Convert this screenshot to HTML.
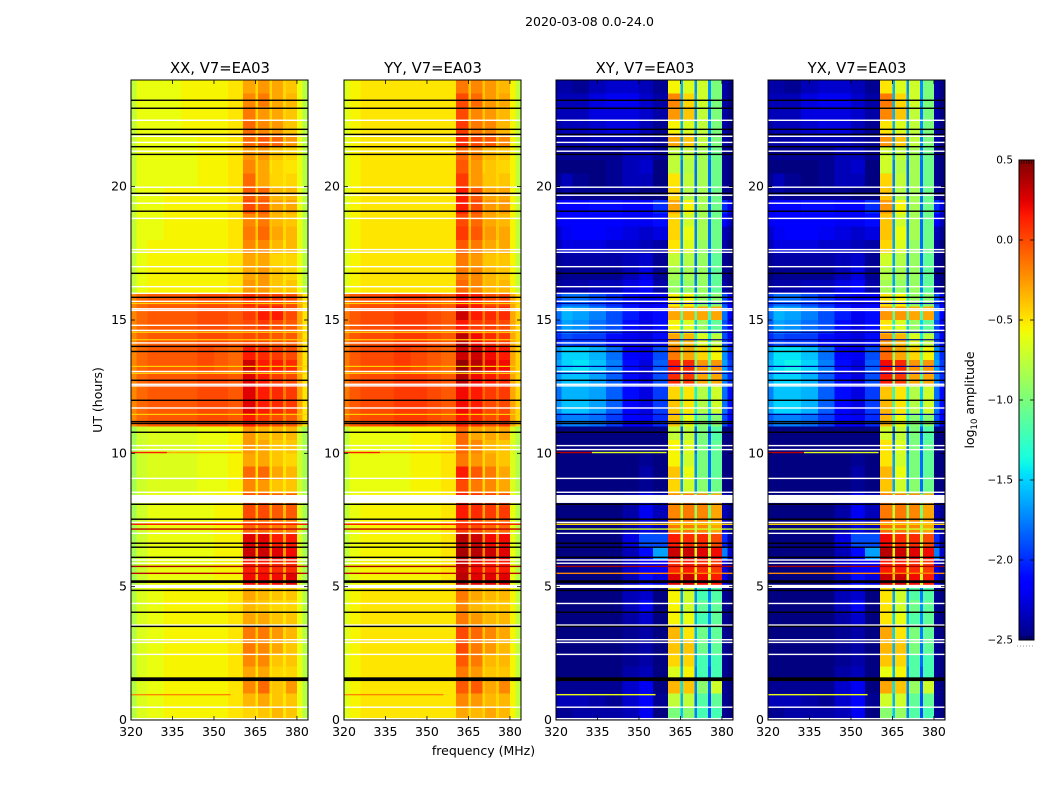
<!DOCTYPE html>
<html lang="en">
<head>
<meta charset="utf-8">
<title>2020-03-08 0.0-24.0</title>
<style>
html,body{margin:0;padding:0;background:#fff;width:1050px;height:800px;overflow:hidden}
svg{display:block}
text{font-family:"DejaVu Sans","Liberation Sans",sans-serif;fill:#000}
</style>
</head>
<body>
<svg id="fig" xmlns="http://www.w3.org/2000/svg" width="1050" height="800" viewBox="0 0 1050 800">
<text x="589.5" y="26" font-size="12.5" text-anchor="middle">2020-03-08 0.0-24.0</text>
<text x="483.5" y="755" font-size="12.5" text-anchor="middle">frequency (MHz)</text>
<text transform="translate(102,400) rotate(-90)" font-size="12.5" text-anchor="middle">UT (hours)</text>
<text transform="translate(974,400) rotate(-90)" font-size="12.5" text-anchor="middle">log<tspan font-size="8.5" dy="3">10</tspan><tspan dy="-3"> amplitude</tspan></text>
<defs><linearGradient id="jet-gradient" x1="0" y1="1" x2="0" y2="0"></linearGradient></defs>
<g id="panels"></g>
<g id="cbar"></g>
</svg>
<script>
// Axis categories and tick labels
const freqEdges=[320,322,326,332,338,344,350,355,360.5,365,366,370,371,375,376,380,382,384];
const freqTicks=[320,335,350,365,380];
const hourTicks=[0,5,10,15,20];
const colorTicks=[0.5,0,-0.5,-1,-1.5,-2,-2.5];
const rowHours=0.5;
const valueUnit=0.05; // matrices hold log10 amplitude in units of 0.05
const panelTitles=["XX, V7=EA03","YY, V7=EA03","XY, V7=EA03","YX, V7=EA03"];

// Flagged integrations
const blackHours=[23.24,22.94,22.15,21.96,21.5,21.21,19.75,19.08,16.75,15.85,14.01,13.82,12.74,11.99,11.19,11.12,10.79,8.09,7.53,6.63,6.48,6.1,4.86,4.04,3.51];
const whiteHours=[22.49,21.89,21.66,21.33,19.98,19.68,19.38,18.81,17.64,17.54,17,16.25,16,15.7,15.42,15.36,14.8,14.61,14.14,13.07,12.59,12.53,11.7,10.29,10.14,9.06,8.54,7.41,7,6,5.88,4.37,3.56,3.01,2.91,2.46,0.48,0.05];
const quietHours=[15.62,14.54,14.26,13.26,13,11.46];
const bandStart=[1.46,5.14,4.95,8.14];
const bandEnd=[1.6,5.24,5.07,8.44];
const bandFill=["black","black","white","white"];

// Narrow interference lines: hour, freq from, freq to, value per panel
const spurHour=[10.03,10.03,0.95,7.34,7.16,5.76,5.5];
const spurFrom=[320,333,320,320,320,320,320];
const spurTo=[333,360,356,384,384,384,384];
const spurXX=[3,-6,-4,3,7,8,7];
const spurYY=[3,-6,-4,3,7,8,7];
const spurXY=[7,-13,-12,-9,-14,8,-4];
const spurYX=[7,-13,-12,-9,-14,8,-4];

const xxValues=[
[-16,-13,-12,-11,-11,-11,-11,-10,-9,-10,-8,-10,-7,-10,-8,-12,-16],
[-16,-13,-12,-11,-11,-11,-11,-10,-7,-10,-6,-10,-8,-10,-8,-12,-16],
[-16,-13,-12,-11,-11,-11,-11,-10,-4,-9,-2,-9,-8,-9,-5,-12,-16],
[-16,-13,-12,-11,-11,-11,-11,-10,-6,-10,-6,-10,-9,-10,-9,-12,-16],
[-16,-13,-12,-11,-11,-11,-11,-10,-4,-9,-4,-10,-8,-10,-8,-12,-16],
[-16,-13,-12,-11,-11,-11,-11,-10,-3,-9,-4,-10,-6,-10,-8,-12,-16],
[-16,-13,-12,-11,-11,-11,-11,-10,-3,-8,-3,-9,-5,-9,-7,-12,-16],
[-16,-13,-12,-11,-11,-11,-11,-10,-6,-9,-6,-9,-8,-10,-8,-12,-16],
[-16,-13,-12,-11,-11,-11,-11,-10,-7,-9,-8,-10,-9,-10,-9,-12,-16],
[-16,-13,-12,-11,-11,-11,-11,-10,-6,-9,-7,-10,-8,-10,-8,-12,-16],
[-17,-14,-12,-12,-12,-12,-11,-11,4,-7,4,-6,4,-6,5,-13,-17],
[-17,-14,-12,-12,-12,-12,-11,-11,3,-7,3,-6,2,-6,2,-13,-17],
[-17,-14,-12,-12,-12,-12,-11,-11,6,-6,6,-5,5,-5,4,-13,-17],
[-17,-14,-12,-12,-12,-12,-11,-11,5,-6,5,-6,3,-6,3,-13,-17],
[-17,-14,-12,-12,-12,-12,-11,-11,-2,-7,-2,-7,-3,-8,-3,-13,-17],
[-17,-14,-12,-12,-12,-12,-11,-11,0,-7,0,-7,-1,-7,-1,-13,-17],
[-17,-14,-12,-12,-12,-12,-11,-11,0,-8,0,-8,-1,-8,-1,-13,-17],
[-17,-14,-13,-13,-13,-12,-12,-11,-4,-10,-5,-10,-8,-10,-8,-14,-17],
[-17,-14,-13,-13,-13,-12,-12,-11,-2,-10,-2,-10,-6,-10,-7,-14,-17],
[-17,-14,-13,-13,-13,-12,-12,-11,-6,-10,-6,-10,-8,-10,-9,-14,-17],
[-17,-14,-13,-13,-13,-12,-12,-11,-5,-10,-6,-10,-8,-10,-8,-14,-17],
[-17,-14,-13,-13,-13,-12,-12,-11,-5,-10,-7,-10,-7,-10,-7,-14,-17],
[-4,-2,-1,-1,-1,0,0,-1,3,-3,1,-3,0,-4,-1,-6,-10],
[-4,-2,-1,-1,-1,0,0,-1,5,-2,3,-3,2,-3,1,-6,-10],
[-4,-2,-1,-1,-1,0,0,-1,5,-2,3,-3,2,-3,1,-6,-10],
[-4,-2,-1,-1,-1,0,0,-1,5,-2,3,-3,1,-3,0,-6,-10],
[-4,-2,-1,-1,-1,0,-1,-2,6,-2,3,-3,3,-3,2,-6,-10],
[-4,-2,-1,-1,-1,0,-1,-2,3,-3,2,-3,1,-3,0,-6,-10],
[-4,-2,-1,-1,-1,0,0,-1,0,-3,0,-4,-1,-4,-1,-6,-10],
[-4,-2,-1,-1,-1,0,0,-1,0,-3,1,-4,0,-4,-1,-6,-10],
[-4,-2,-1,-1,-1,0,0,-1,1,-3,3,-3,3,-3,0,-6,-10],
[-4,-2,-1,-1,-1,0,0,-1,2,-3,1,-3,1,-4,0,-6,-10],
[-15,-12,-11,-11,-11,-11,-11,-10,-5,-9,-5,-9,-8,-10,-8,-12,-16],
[-15,-12,-11,-11,-11,-11,-11,-10,-6,-9,-5,-9,-8,-10,-9,-12,-16],
[-15,-12,-11,-11,-11,-11,-11,-10,-6,-9,-6,-9,-9,-10,-9,-12,-16],
[-15,-12,-11,-11,-11,-11,-11,-10,-4,-9,-4,-9,-7,-10,-7,-12,-16],
[-15,-12,-12,-11,-11,-11,-11,-10,-3,-8,-2,-8,-6,-9,-7,-12,-16],
[-15,-12,-12,-11,-11,-11,-11,-10,-4,-9,-3,-8,-7,-9,-8,-12,-16],
[-15,-12,-12,-11,-11,-11,-11,-10,0,-8,-1,-8,-6,-9,-6,-12,-16],
[-15,-12,-12,-11,-11,-11,-11,-10,-1,-8,-2,-8,-7,-9,-7,-12,-16],
[-15,-12,-12,-12,-12,-11,-11,-10,-2,-9,-6,-9,-9,-10,-9,-12,-16],
[-15,-12,-12,-12,-12,-11,-11,-10,-4,-9,-6,-10,-9,-10,-10,-12,-16],
[-15,-12,-12,-12,-12,-11,-11,-10,-5,-9,-5,-9,-8,-10,-9,-12,-16],
[-15,-12,-12,-12,-12,-11,-11,-10,-2,-8,-1,-7,-2,-8,-5,-12,-16],
[-15,-12,-12,-12,-11,-11,-11,-10,-2,-8,-4,-8,-5,-8,-8,-12,-16],
[-15,-12,-12,-12,-11,-11,-11,-10,-3,-9,-5,-9,-6,-9,-8,-12,-16],
[-15,-12,-12,-12,-11,-11,-11,-10,-4,-9,-3,-9,-6,-9,-7,-12,-16],
[-15,-12,-12,-12,-11,-11,-11,-10,-6,-9,-5,-9,-6,-9,-8,-12,-16]
];

const yyValues=[
[-13,-11,-10,-10,-10,-10,-10,-10,-6,-9,-7,-9,-6,-9,-7,-11,-15],
[-13,-11,-10,-10,-10,-10,-10,-10,-4,-9,-5,-9,-7,-9,-7,-11,-15],
[-13,-11,-10,-10,-10,-10,-10,-10,-1,-8,-1,-8,-6,-8,-4,-11,-15],
[-13,-11,-10,-10,-10,-10,-10,-10,-3,-8,-5,-9,-8,-9,-8,-11,-15],
[-13,-11,-10,-10,-10,-10,-10,-10,-1,-8,-3,-9,-7,-9,-7,-11,-15],
[-13,-11,-10,-10,-10,-10,-10,-10,0,-8,-3,-9,-5,-9,-7,-11,-15],
[-13,-11,-10,-10,-10,-10,-10,-10,0,-7,-2,-8,-4,-8,-6,-11,-15],
[-13,-11,-10,-10,-10,-10,-10,-10,-3,-8,-5,-8,-7,-9,-7,-11,-15],
[-13,-11,-10,-10,-10,-10,-10,-10,-4,-8,-7,-9,-8,-9,-8,-11,-15],
[-13,-11,-10,-10,-10,-10,-10,-10,-3,-8,-6,-9,-7,-9,-7,-11,-15],
[-15,-12,-11,-11,-11,-11,-11,-10,7,-6,5,-5,5,-5,5,-12,-16],
[-15,-12,-11,-11,-11,-11,-11,-10,6,-6,4,-5,3,-5,3,-12,-16],
[-15,-12,-11,-11,-11,-11,-11,-10,8,-5,7,-4,6,-4,5,-12,-16],
[-15,-12,-11,-11,-11,-11,-11,-10,7,-5,6,-5,4,-5,4,-12,-16],
[-15,-12,-11,-11,-11,-11,-11,-10,1,-6,0,-6,-2,-7,-2,-12,-16],
[-15,-12,-11,-11,-11,-11,-11,-10,3,-6,2,-6,1,-6,1,-12,-16],
[-15,-12,-11,-11,-11,-11,-11,-10,3,-7,2,-7,1,-7,0,-12,-16],
[-15,-12,-12,-12,-12,-11,-11,-10,0,-9,-3,-9,-4,-9,-6,-13,-16],
[-15,-12,-12,-12,-12,-11,-11,-10,3,-9,-1,-9,-3,-9,-6,-13,-16],
[-15,-12,-12,-12,-12,-11,-11,-10,-3,-9,-5,-9,-6,-9,-8,-13,-16],
[-15,-12,-12,-12,-12,-11,-11,-10,-2,-9,-4,-9,-7,-9,-8,-13,-16],
[-15,-12,-12,-12,-12,-11,-11,-10,-2,-9,-6,-9,-6,-9,-6,-13,-16],
[-3,-1,0,0,1,1,0,-1,3,-2,2,-2,0,-3,1,-6,-9],
[-3,-1,0,0,1,1,0,-1,4,-2,3,-2,0,-3,0,-6,-9],
[-3,-1,0,0,1,1,0,-1,4,-2,3,-2,1,-2,1,-6,-9],
[-3,-1,0,0,1,1,0,-1,7,-1,4,-2,3,-2,2,-6,-9],
[-3,-1,0,0,1,0,-1,-2,9,-1,7,-2,5,-2,4,-6,-9],
[-3,-1,0,0,1,0,-1,-2,6,-2,6,-2,4,-2,3,-6,-9],
[-3,-1,0,0,1,1,0,-1,7,-2,4,-3,2,-3,1,-6,-9],
[-3,-1,0,0,1,1,0,-1,3,-2,1,-3,1,-3,0,-6,-9],
[-3,-1,0,0,1,1,0,-1,6,-2,3,-3,2,-3,2,-6,-9],
[-3,-1,0,0,1,1,0,-1,4,-2,3,-3,0,-3,0,-6,-9],
[-13,-11,-10,-10,-10,-10,-10,-10,-2,-8,-4,-8,-7,-9,-7,-11,-15],
[-13,-11,-10,-10,-10,-10,-10,-10,-3,-8,-4,-8,-7,-9,-8,-11,-15],
[-13,-11,-10,-10,-10,-10,-10,-10,-3,-8,-5,-8,-8,-9,-8,-11,-15],
[-13,-11,-10,-10,-10,-10,-10,-10,-1,-8,-3,-8,-6,-9,-6,-11,-15],
[-13,-11,-10,-10,-10,-10,-10,-10,1,-7,-1,-7,-5,-8,-6,-11,-15],
[-13,-11,-10,-10,-10,-10,-10,-10,0,-8,-2,-7,-6,-8,-7,-11,-15],
[-13,-11,-10,-10,-10,-10,-10,-10,3,-7,0,-7,-5,-8,-5,-11,-15],
[-13,-11,-10,-10,-10,-10,-10,-10,3,-7,-1,-7,-6,-8,-6,-11,-15],
[-13,-11,-10,-10,-10,-10,-10,-10,1,-8,-5,-8,-8,-9,-8,-11,-15],
[-13,-11,-10,-10,-10,-10,-10,-10,-1,-8,-5,-9,-8,-9,-9,-11,-15],
[-13,-11,-10,-10,-10,-10,-10,-10,-2,-8,-4,-8,-7,-9,-8,-11,-15],
[-13,-11,-10,-10,-10,-10,-10,-10,2,-7,0,-6,-1,-7,-4,-11,-15],
[-13,-11,-10,-10,-10,-10,-10,-10,1,-7,-3,-7,-4,-7,-7,-11,-15],
[-13,-11,-10,-10,-10,-10,-10,-10,0,-8,-4,-8,-5,-8,-7,-11,-15],
[-13,-11,-10,-10,-10,-10,-10,-10,0,-8,-2,-8,-5,-8,-6,-11,-15],
[-13,-11,-10,-10,-10,-10,-10,-10,-3,-8,-4,-8,-5,-8,-7,-11,-15]
];

const xyValues=[
[-49,-49,-48,-48,-48,-47,-44,-50,-20,-31,-19,-35,-24,-38,-24,-49,-50],
[-47,-47,-47,-48,-49,-46,-43,-49,-15,-32,-15,-36,-23,-38,-22,-49,-50],
[-49,-49,-49,-49,-49,-46,-44,-50,-7,-29,-8,-35,-19,-37,-14,-49,-50],
[-50,-50,-50,-50,-50,-48,-47,-50,-13,-32,-11,-35,-24,-38,-24,-49,-50],
[-50,-50,-50,-50,-50,-49,-48,-50,-9,-33,-9,-33,-24,-36,-24,-49,-50],
[-50,-50,-50,-50,-50,-49,-48,-50,-8,-32,-8,-33,-21,-36,-22,-49,-50],
[-50,-50,-50,-50,-50,-49,-48,-50,-7,-30,-10,-32,-21,-35,-22,-49,-50],
[-50,-50,-50,-50,-50,-48,-46,-50,-11,-30,-12,-32,-24,-34,-22,-49,-50],
[-50,-50,-50,-50,-50,-47,-44,-50,-11,-33,-14,-34,-22,-34,-22,-49,-50],
[-50,-50,-50,-50,-50,-47,-46,-50,-11,-33,-14,-34,-24,-35,-23,-49,-50],
[-50,-50,-50,-50,-50,-47,-42,-45,5,-8,6,-12,4,-14,3,-45,-49],
[-50,-50,-50,-50,-50,-46,-43,-43,2,-10,3,-11,2,-12,1,-45,-49],
[-50,-50,-50,-50,-50,-47,-42,-33,6,-12,6,-14,5,-15,4,-35,-46],
[-50,-50,-50,-50,-50,-45,-38,-38,3,-12,2,-14,2,-15,0,-40,-48],
[-50,-50,-50,-50,-50,-48,-45,-47,-3,-14,-3,-16,-4,-17,-6,-46,-49],
[-50,-50,-50,-50,-50,-48,-44,-47,-4,-15,-3,-18,-4,-20,-6,-47,-49],
[-50,-50,-50,-50,-50,-48,-44,-47,-4,-15,-3,-18,-4,-20,-6,-47,-49],
[-50,-50,-50,-50,-50,-50,-49,-50,-9,-33,-14,-34,-19,-36,-21,-50,-50],
[-50,-50,-50,-50,-50,-50,-48,-50,-8,-33,-12,-34,-20,-36,-22,-50,-50],
[-50,-50,-50,-50,-50,-50,-49,-50,-11,-33,-14,-34,-20,-36,-22,-50,-50],
[-50,-50,-50,-50,-50,-50,-50,-50,-11,-35,-13,-36,-20,-36,-22,-50,-50],
[-50,-50,-50,-50,-50,-50,-50,-50,-15,-37,-15,-36,-20,-37,-23,-50,-50],
[-37,-35,-35,-36,-39,-43,-44,-40,-8,-25,-12,-28,-19,-30,-19,-38,-43],
[-34,-31,-31,-33,-37,-43,-45,-39,-8,-25,-10,-28,-16,-30,-14,-36,-42],
[-36,-32,-32,-33,-37,-42,-45,-39,-9,-26,-10,-28,-16,-30,-14,-36,-42],
[-34,-31,-31,-33,-37,-42,-45,-38,2,-20,1,-22,-6,-24,-6,-35,-40],
[-33,-30,-29,-31,-35,-42,-45,-37,3,-15,2,-20,-5,-22,-5,-33,-39],
[-34,-30,-30,-32,-36,-43,-44,-38,-3,-18,-6,-20,-9,-22,-11,-34,-40],
[-40,-38,-39,-39,-42,-44,-45,-42,-6,-26,-7,-26,-13,-28,-15,-38,-44],
[-37,-33,-34,-36,-38,-42,-45,-42,-11,-28,-13,-30,-18,-30,-22,-38,-44],
[-36,-32,-33,-35,-38,-41,-44,-42,-6,-22,-6,-22,-6,-24,-6,-36,-43],
[-39,-36,-36,-38,-40,-42,-44,-43,-11,-26,-11,-28,-18,-30,-19,-38,-44],
[-49,-48,-48,-47,-47,-45,-43,-48,-18,-33,-18,-35,-18,-35,-22,-48,-50],
[-50,-49,-49,-49,-49,-47,-45,-49,-17,-33,-17,-36,-18,-36,-22,-49,-50],
[-49,-48,-48,-48,-48,-47,-46,-49,-15,-33,-16,-36,-18,-36,-22,-49,-50],
[-47,-45,-45,-45,-46,-46,-47,-48,-10,-33,-13,-35,-18,-36,-21,-48,-50],
[-46,-44,-43,-43,-44,-45,-46,-45,-9,-33,-12,-35,-17,-36,-21,-47,-49],
[-44,-43,-43,-43,-43,-44,-44,-42,-9,-33,-14,-35,-17,-36,-21,-43,-47],
[-44,-43,-43,-42,-42,-43,-43,-40,-6,-33,-11,-35,-17,-36,-21,-40,-45],
[-49,-48,-49,-49,-49,-49,-50,-50,-9,-34,-16,-36,-17,-36,-21,-49,-50],
[-49,-47,-49,-50,-49,-47,-47,-50,-10,-35,-15,-36,-17,-36,-21,-49,-50],
[-50,-50,-50,-50,-49,-47,-46,-50,-15,-35,-16,-36,-17,-36,-21,-49,-50],
[-49,-49,-49,-49,-49,-47,-47,-49,-15,-33,-15,-35,-17,-35,-21,-49,-50],
[-48,-48,-48,-47,-47,-47,-48,-49,-6,-33,-8,-34,-15,-35,-20,-48,-50],
[-48,-47,-47,-46,-45,-45,-47,-49,-11,-32,-13,-33,-15,-34,-20,-48,-50],
[-47,-47,-47,-45,-45,-45,-46,-48,-5,-32,-8,-34,-15,-35,-20,-48,-50],
[-47,-47,-47,-45,-44,-44,-46,-48,-4,-32,-9,-33,-14,-34,-20,-48,-50],
[-48,-48,-49,-47,-46,-46,-47,-49,-11,-32,-13,-34,-14,-34,-20,-48,-50]
];

const yxValues=[
[-49,-49,-48,-48,-48,-47,-44,-50,-19,-31,-18,-35,-23,-38,-24,-49,-50],
[-47,-47,-47,-48,-49,-46,-43,-49,-14,-32,-14,-36,-22,-38,-22,-49,-50],
[-49,-49,-49,-49,-49,-46,-44,-50,-6,-29,-8,-35,-18,-37,-14,-49,-50],
[-50,-50,-50,-50,-50,-48,-47,-50,-12,-32,-11,-35,-23,-38,-24,-49,-50],
[-50,-50,-50,-50,-50,-49,-48,-50,-8,-33,-9,-33,-23,-36,-24,-49,-50],
[-50,-50,-50,-50,-50,-49,-48,-50,-7,-32,-8,-33,-20,-36,-22,-49,-50],
[-50,-50,-50,-50,-50,-49,-48,-50,-6,-30,-10,-32,-20,-35,-22,-49,-50],
[-50,-50,-50,-50,-50,-48,-46,-50,-10,-30,-12,-32,-23,-34,-22,-49,-50],
[-50,-50,-50,-50,-50,-47,-44,-50,-10,-33,-14,-34,-21,-34,-22,-49,-50],
[-50,-50,-50,-50,-50,-47,-46,-50,-10,-33,-14,-34,-23,-35,-23,-49,-50],
[-50,-50,-50,-50,-50,-47,-42,-45,6,-8,6,-12,4,-14,3,-45,-49],
[-50,-50,-50,-50,-50,-46,-43,-43,3,-10,3,-11,2,-12,1,-45,-49],
[-50,-50,-50,-50,-50,-47,-42,-33,7,-12,6,-14,5,-15,4,-35,-46],
[-50,-50,-50,-50,-50,-45,-38,-38,4,-12,2,-14,2,-15,0,-40,-48],
[-50,-50,-50,-50,-50,-48,-45,-47,-2,-14,-3,-16,-4,-17,-6,-46,-49],
[-50,-50,-50,-50,-50,-48,-44,-47,-3,-15,-3,-18,-4,-20,-6,-47,-49],
[-50,-50,-50,-50,-50,-48,-44,-47,-3,-15,-3,-18,-4,-20,-6,-47,-49],
[-50,-50,-50,-50,-50,-50,-49,-50,-8,-33,-14,-34,-19,-36,-21,-50,-50],
[-50,-50,-50,-50,-50,-50,-48,-50,-7,-33,-12,-34,-20,-36,-22,-50,-50],
[-50,-50,-50,-50,-50,-50,-49,-50,-10,-33,-14,-34,-20,-36,-22,-50,-50],
[-50,-50,-50,-50,-50,-50,-50,-50,-10,-35,-13,-36,-20,-36,-22,-50,-50],
[-50,-50,-50,-50,-50,-50,-50,-50,-14,-37,-15,-36,-20,-37,-23,-50,-50],
[-37,-35,-35,-36,-39,-43,-44,-40,-7,-25,-12,-28,-19,-30,-19,-38,-43],
[-33,-30,-30,-32,-37,-43,-45,-39,-7,-25,-10,-28,-16,-30,-14,-36,-42],
[-35,-31,-31,-32,-37,-42,-45,-39,-8,-26,-10,-28,-16,-30,-14,-36,-42],
[-33,-30,-30,-32,-37,-42,-45,-38,3,-20,1,-22,-6,-24,-6,-35,-40],
[-32,-29,-28,-30,-35,-42,-45,-37,4,-15,2,-20,-5,-22,-5,-33,-39],
[-33,-29,-29,-31,-36,-43,-44,-38,-2,-18,-6,-20,-9,-22,-11,-34,-40],
[-40,-38,-39,-39,-42,-44,-45,-42,-5,-26,-7,-26,-13,-28,-15,-38,-44],
[-37,-33,-34,-36,-38,-42,-45,-42,-10,-28,-13,-30,-18,-30,-22,-38,-44],
[-36,-32,-33,-35,-38,-41,-44,-42,-5,-22,-5,-22,-6,-24,-6,-36,-43],
[-39,-36,-36,-38,-40,-42,-44,-43,-10,-26,-11,-28,-18,-30,-19,-38,-44],
[-49,-48,-48,-47,-47,-45,-43,-48,-17,-33,-18,-35,-18,-35,-22,-48,-50],
[-50,-49,-49,-49,-49,-47,-45,-49,-16,-33,-17,-36,-18,-36,-22,-49,-50],
[-49,-48,-48,-48,-48,-47,-46,-49,-14,-33,-16,-36,-18,-36,-22,-49,-50],
[-47,-45,-45,-45,-46,-46,-47,-48,-9,-33,-13,-35,-18,-36,-21,-48,-50],
[-46,-44,-43,-43,-44,-45,-46,-45,-8,-33,-12,-35,-17,-36,-21,-47,-49],
[-44,-43,-43,-43,-43,-44,-44,-42,-8,-33,-14,-35,-17,-36,-21,-43,-47],
[-44,-43,-43,-42,-42,-43,-43,-40,-5,-33,-11,-35,-17,-36,-21,-40,-45],
[-49,-48,-49,-49,-49,-49,-50,-50,-8,-34,-16,-36,-17,-36,-21,-49,-50],
[-49,-47,-49,-50,-49,-47,-47,-50,-9,-35,-15,-36,-17,-36,-21,-49,-50],
[-50,-50,-50,-50,-49,-47,-46,-50,-14,-35,-16,-36,-17,-36,-21,-49,-50],
[-49,-49,-49,-49,-49,-47,-47,-49,-14,-33,-15,-35,-17,-35,-21,-49,-50],
[-48,-48,-48,-47,-47,-47,-48,-49,-5,-33,-8,-34,-15,-35,-20,-48,-50],
[-48,-47,-47,-46,-45,-45,-47,-49,-10,-32,-13,-33,-15,-34,-20,-48,-50],
[-47,-47,-47,-45,-45,-45,-46,-48,-4,-32,-8,-34,-15,-35,-20,-48,-50],
[-47,-47,-47,-45,-44,-44,-46,-48,-3,-32,-9,-33,-14,-34,-20,-48,-50],
[-48,-48,-49,-47,-46,-46,-47,-49,-10,-32,-13,-34,-14,-34,-20,-48,-50]
];

const panelMatrices=[xxValues,yyValues,xyValues,yxValues];
const panelSpurs=[spurXX,spurYY,spurXY,spurYX];
const panelLeft=[131,344,556,768];
const panelWidth=177, plotTop=80, plotBottom=720;
const NS="http://www.w3.org/2000/svg";

function xAxis(p,mhz){return panelLeft[p]+(mhz-320)/(384-320)*panelWidth;}
function yAxis(h){return plotBottom-(h/24)*(plotBottom-plotTop);}
function piece(t,pts){for(let i=1;i<pts.length;i++){if(t<=pts[i][0]){const a=pts[i-1],b=pts[i];return a[1]+(b[1]-a[1])*(t-a[0])/(b[0]-a[0]);}}return pts[pts.length-1][1];}
function jet(v){
  const t=Math.max(0,Math.min(1,(v+2.5)/3));
  const r=piece(t,[[0,0],[.35,0],[.66,1],[.89,1],[1,.5]]);
  const g=piece(t,[[0,0],[.125,0],[.375,1],[.64,1],[.91,0],[1,0]]);
  const b=piece(t,[[0,.5],[.11,1],[.34,1],[.65,0],[1,0]]);
  return "rgb("+Math.round(r*255)+","+Math.round(g*255)+","+Math.round(b*255)+")";
}
function shape(parent,tag,attrs){const e=document.createElementNS(NS,tag);for(const k in attrs)e.setAttribute(k,attrs[k]);parent.appendChild(e);return e;}

const panelsRoot=document.getElementById("panels");
panelMatrices.forEach(function(matrix,p){
  const g=shape(panelsRoot,"g",{});
  
  
  const cells=shape(g,"g",{"shape-rendering":"crispEdges"});
  matrix.forEach(function(row,r){
    row.forEach(function(val,c){
      const x0=xAxis(p,freqEdges[c]),x1=xAxis(p,freqEdges[c+1]);
      const y0=yAxis((r+1)*rowHours),y1=yAxis(r*rowHours);
      const cell=shape(cells,"rect",{x:x0,y:y0,width:x1-x0,height:y1-y0,fill:jet(val*valueUnit)});
      
      
    });
  });
  spurHour.forEach(function(h,i){
    const x0=xAxis(p,spurFrom[i]),x1=xAxis(p,spurTo[i]);
    const s=shape(g,"rect",{x:x0,y:yAxis(h)-0.7,width:x1-x0,height:1.4,fill:jet(panelSpurs[p][i]*valueUnit)});
    
    
  });
  quietHours.forEach(function(h){
    const faint=p<2?"#ffd000":"#00008c";
    const s=shape(g,"rect",{x:panelLeft[p],y:yAxis(h)-0.6,width:panelWidth,height:1.2,fill:faint});
    
    
  });
  whiteHours.forEach(function(h){
    const s=shape(g,"rect",{x:panelLeft[p],y:yAxis(h)-0.7,width:panelWidth,height:1.4,fill:"#fff"});
    
    
  });
  blackHours.forEach(function(h){
    const s=shape(g,"rect",{x:panelLeft[p],y:yAxis(h)-0.7,width:panelWidth,height:1.4,fill:"#000"});
    
    
  });
  bandStart.forEach(function(h,i){
    const top=yAxis(bandEnd[i]),bot=yAxis(h);
    const s=shape(g,"rect",{x:panelLeft[p],y:top,width:panelWidth,height:bot-top,fill:bandFill[i]});
    
    
  });
  // ticks and labels
  freqTicks.forEach(function(f){
    const x=xAxis(p,f);
    const tb=shape(g,"line",{x1:x,x2:x,y1:plotBottom,y2:plotBottom-4,stroke:"#000","stroke-width":0.8});
    
    
    const tt=shape(g,"line",{x1:x,x2:x,y1:plotTop,y2:plotTop+4,stroke:"#000","stroke-width":0.8});
    
    
    const lab=shape(g,"text",{x:x,y:plotBottom+16,"font-size":12.5,"text-anchor":"middle"});
    lab.textContent=String(f);
    
    
  });
  hourTicks.forEach(function(h){
    const y=yAxis(h);
    const tl=shape(g,"line",{x1:panelLeft[p],x2:panelLeft[p]+4,y1:y,y2:y,stroke:"#000","stroke-width":0.8});
    
    
    const tr=shape(g,"line",{x1:panelLeft[p]+panelWidth,x2:panelLeft[p]+panelWidth-4,y1:y,y2:y,stroke:"#000","stroke-width":0.8});
    
    
    const lab=shape(g,"text",{x:panelLeft[p]-4,y:y+4,"font-size":12.5,"text-anchor":"end"});
    lab.textContent=String(h);
    
    
  });
  const frame=shape(g,"rect",{x:panelLeft[p],y:plotTop,width:panelWidth,height:plotBottom-plotTop,fill:"none",stroke:"#000","stroke-width":1});
  
  
  const title=shape(g,"text",{x:panelLeft[p]+panelWidth/2+0.5,y:73,"font-size":14.8,"text-anchor":"middle"});
  title.textContent=panelTitles[p];
  
  
});

// Colorbar
const cbarRoot=document.getElementById("cbar");
const grad=document.getElementById("jet-gradient");
const cbLeft=1019,cbRight=1034,cbTop=160,cbBottom=640;
function cbY(v){return cbBottom-(v+2.5)/3*(cbBottom-cbTop);}
for(let i=0;i<=60;i++){
  const stop=shape(grad,"stop",{offset:(i/60*100)+"%","stop-color":jet(-2.5+i*0.05)});
}
const cbFill=shape(cbarRoot,"rect",{x:cbLeft,y:cbTop,width:cbRight-cbLeft,height:cbBottom-cbTop,fill:"url(#jet-gradient)",stroke:"#000","stroke-width":1});


colorTicks.forEach(function(v){
  const y=cbY(v);
  const a=shape(cbarRoot,"line",{x1:cbLeft,x2:cbLeft+4,y1:y,y2:y,stroke:"#000","stroke-width":0.8});
  
  
  const b=shape(cbarRoot,"line",{x1:cbRight,x2:cbRight-4,y1:y,y2:y,stroke:"#000","stroke-width":0.8});
  
  
  const lab=shape(cbarRoot,"text",{x:1013,y:y+3.5,"font-size":10.5,"text-anchor":"end"});
  lab.textContent=v.toFixed(1).replace("-","\u2212");
  
  
});
for(let i=1;i<=5;i++){
  const x=cbLeft+i*2.5;
  const top=shape(cbarRoot,"line",{x1:x,x2:x,y1:cbTop,y2:cbTop+4,stroke:"#000","stroke-width":0.6});
  
  
  const bot=shape(cbarRoot,"line",{x1:x,x2:x,y1:cbBottom,y2:cbBottom-4,stroke:"#000","stroke-width":0.6});
  
  
}
const dots=shape(cbarRoot,"line",{x1:1017,x2:1035,y1:646,y2:646,stroke:"#999","stroke-width":1,"stroke-dasharray":"1 2"});


</script>
</body>
</html>
